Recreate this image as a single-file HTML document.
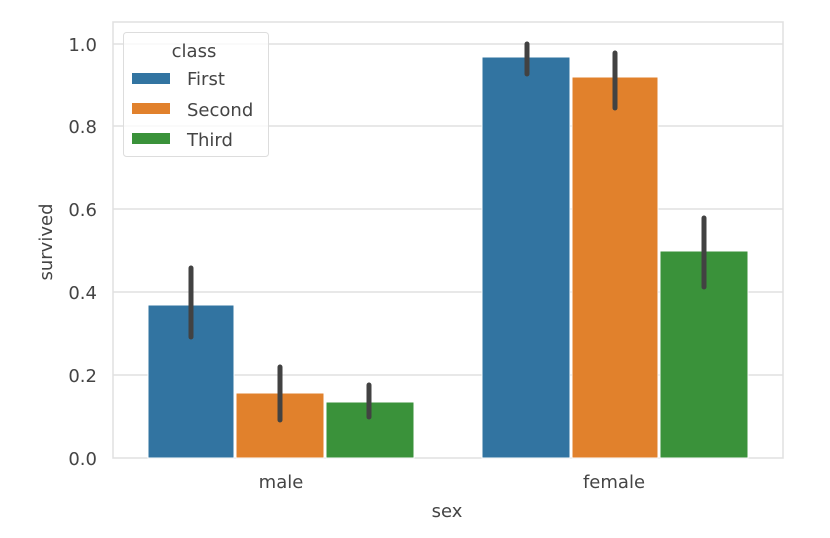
<!DOCTYPE html><html><head><style>body{margin:0;background:#fff}svg{display:block}text{font-family:"DejaVu Sans","Liberation Sans",sans-serif;fill:#444}</style></head><body>
<svg width="830" height="538" xmlns="http://www.w3.org/2000/svg">
<g stroke="#e0e0e0" stroke-width="1.5">
<line x1="113" y1="44" x2="783" y2="44"/><line x1="113" y1="126" x2="783" y2="126"/><line x1="113" y1="209" x2="783" y2="209"/><line x1="113" y1="292" x2="783" y2="292"/><line x1="113" y1="375" x2="783" y2="375"/>
<rect x="113" y="22" width="670" height="436" fill="none"/></g>
<g stroke="#fff" stroke-width="1">
<rect x="148" y="305" width="86" height="153" fill="#3274a1"/>
<rect x="236" y="393" width="88" height="65" fill="#e1812c"/>
<rect x="326" y="402" width="88" height="56" fill="#3a923a"/>
<rect x="482" y="57" width="88" height="401" fill="#3274a1"/>
<rect x="572" y="77" width="86" height="381" fill="#e1812c"/>
<rect x="660" y="251" width="88" height="207" fill="#3a923a"/></g>
<g stroke="#424242" stroke-width="5" stroke-linecap="round">
<line x1="191" y1="268" x2="191" y2="337"/><line x1="280" y1="367" x2="280" y2="420"/><line x1="369" y1="385" x2="369" y2="417"/>
<line x1="527" y1="44" x2="527" y2="74"/><line x1="615" y1="53" x2="615" y2="108"/><line x1="704" y1="218" x2="704" y2="287"/></g>
<g font-size="18" text-anchor="end">
<text x="97" y="51">1.0</text><text x="97" y="133">0.8</text><text x="97" y="216">0.6</text><text x="97" y="299">0.4</text><text x="97" y="382">0.2</text><text x="97" y="465">0.0</text></g>
<g font-size="18" text-anchor="middle">
<text x="281" y="488">male</text><text x="614" y="488">female</text><text x="447" y="517">sex</text>
<text transform="translate(52,242) rotate(-90)">survived</text></g>
<rect x="123.5" y="32.5" width="145" height="124" rx="3" fill="#fff" fill-opacity="0.8" stroke="#ddd"/>
<text x="194" y="57" font-size="18" text-anchor="middle">class</text>
<rect x="132" y="73" width="38" height="11" fill="#3274a1"/><text x="187" y="85" font-size="18">First</text>
<rect x="132" y="103" width="38" height="11" fill="#e1812c"/><text x="187" y="116" font-size="18">Second</text>
<rect x="132" y="133" width="38" height="11" fill="#3a923a"/><text x="187" y="146" font-size="18">Third</text>
</svg></body></html>
